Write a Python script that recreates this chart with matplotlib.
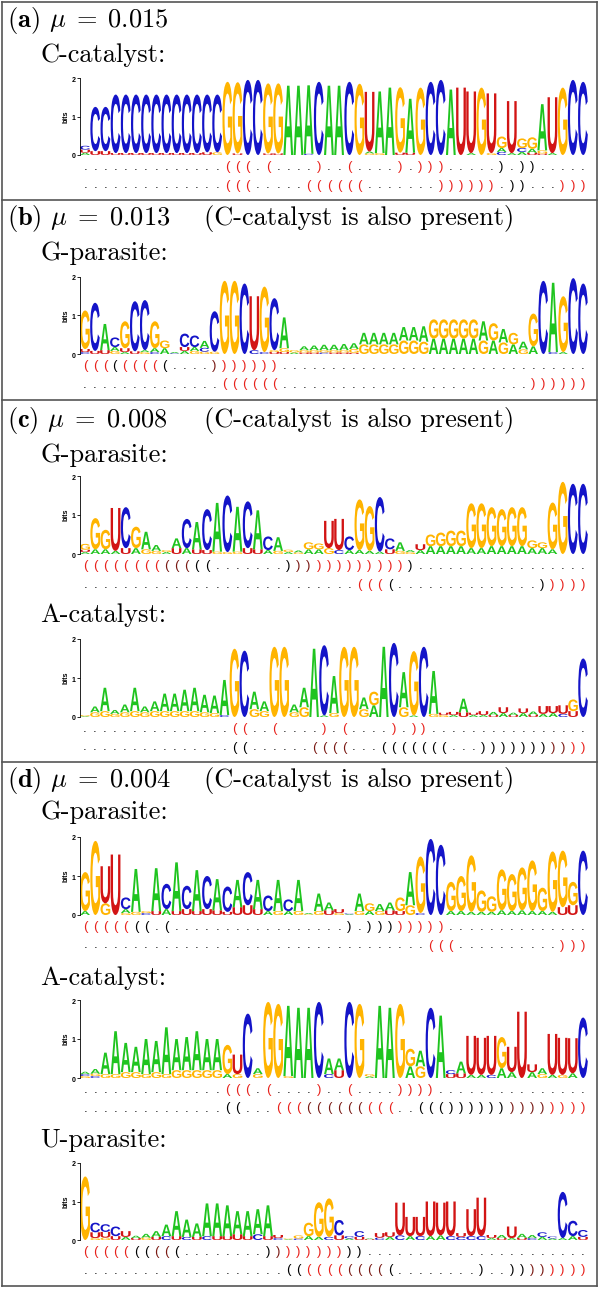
import matplotlib
matplotlib.use("Agg")
import matplotlib.pyplot as plt
from matplotlib.textpath import TextPath
from matplotlib.patches import PathPatch
from matplotlib.font_manager import FontProperties
from matplotlib.transforms import Affine2D, blended_transform_factory
from matplotlib.lines import Line2D

plt.rcParams['font.family'] = 'cmr10'
plt.rcParams['mathtext.fontset'] = 'cm'
plt.rcParams['axes.formatter.use_mathtext'] = True

# ---- panel headings ----
panel_tags = ["a", "b", "c", "d"]
panel_mu = ["0.015", "0.013", "0.008", "0.004"]
panel_note = ["", "(C-catalyst is also present)", "(C-catalyst is also present)",
              "(C-catalyst is also present)"]

# ---- logos: letters of each column (top to bottom) and their heights in bits ----
a_seq = ["CUA", "CU", "CU", "CU", "CU", "CU", "CU", "CU", "CU", "CU", "CU", "CU", "CU", "CG",
         "G", "GU", "C", "C", "GU", "GU", "A", "A", "AC", "C", "A", "A", "C", "G", "UAG", "AG",
         "A", "GU", "AU", "G", "C", "C", "A", "U", "UA", "G", "UG", "GAC", "UA", "GCA", "GAU",
         "AGU", "UA", "G", "C", "C"]
a_bits = [(.1, .08, .06), (1.15, .1), (1.15, .1), (1.52, .05), (1.52, .05), (1.52, .05),
          (1.52, .05), (1.52, .05), (1.52, .05), (1.52, .05), (1.52, .05), (1.52, .05),
          (1.5, .07), (1.5, .07), (1.9,), (1.85, .04), (1.95,), (1.95,), (1.82, .04), (1.82, .04),
          (1.8,), (1.8,), (1.78, .03), (1.9,), (1.8,), (1.8,), (1.9,), (1.85,), (1.55, .05, .04),
          (1.6, .05), (1.75,), (1.7, .06), (1.4, .06), (1.75,), (1.9,), (1.95,), (1.7,), (1.75,),
          (1.6, .05), (1.75,), (1.55, .05), (.3, .1, .08), (1.35, .05), (.25, .1, .08),
          (.3, .1, .06), (1.2, .08, .04), (1.45, .05), (1.75,), (1.95,), (1.9,)]

b_seq = ["GUC", "CU", "AU", "CAG", "GUA", "CU", "CGA", "GAC", "GA", "AC", "CUA", "CAG", "ACG",
         "CG", "G", "G", "C", "UC", "GC", "CUG", "AGU", "GA", "AGU", "AGU", "AGC", "AGU", "AGU",
         "AGU", "AG", "AG", "AG", "AG", "GA", "GA", "AG", "GA", "GA", "GA", "GA", "GA", "AG",
         "GA", "AG", "GA", "AG", "GA", "C", "AC", "GA", "C", "C"]
b_bits = [(1.0, .08, .05), (1.25, .08), (.68, .1), (.25, .1, .08), (.7, .1, .05), (1.3, .07),
          (1.3, .05, .05), (.7, .1, .05), (.2, .15), (.03, .02), (.35, .1, .08), (.3, .1, .08),
          (.18, .1, .06), (1.05, .06), (1.9,), (1.9,), (1.83,), (1.4, .1), (1.7, .05),
          (1.35, .05, .05), (.8, .1, .05), (.06, .04), (.1, .06, .04), (.12, .06, .04),
          (.14, .06, .04), (.14, .06, .04), (.16, .06, .04), (.15, .1, .03), (.3, .25), (.3, .25),
          (.3, .25), (.3, .25), (.35, .35), (.35, .35), (.4, .32), (.5, .4), (.5, .4), (.5, .4),
          (.5, .4), (.5, .4), (.5, .35), (.45, .35), (.35, .3), (.3, .25), (.2, .12), (.85, .2),
          (1.9,), (1.8, .05), (1.45, .05), (1.97,), (1.83,)]

c1_seq = ["GUA", "GA", "GA", "UA", "CU", "GA", "AG", "AG", "AG", "AU", "CA", "AU", "CU", "AG",
          "CG", "AG", "CU", "AU", "CA", "AG", "GA", "AG", "GA", "GA", "UG", "UC", "CA", "GA",
          "GA", "CA", "CU", "AG", "GA", "AU", "GA", "GA", "GA", "GA", "GA", "GA", "GA", "GA",
          "GA", "GA", "GA", "AG", "GA", "G", "C", "C"]
c1_bits = [(.15, .06, .05), (.8, .12), (.5, .12), (1.1, .08), (1.05, .15), (.55, .15), (.45, .12),
           (.15, .08), (.05, .05), (.25, .15), (.75, .15), (.7, .12), (1.05, .1), (1.25, .06),
           (1.45, .05), (1.15, .06), (1.2, .15), (1.0, .12), (.35, .1), (.35, .08), (.06, .05),
           (.05, .04), (.18, .12), (.15, .12), (.7, .15), (.8, .1), (.35, .1), (1.3, .1),
           (1.15, .08), (1.4, .06), (.28, .12), (.22, .08), (.05, .05), (.1, .15), (.3, .2),
           (.35, .2), (.4, .2), (.4, .2), (1.15, .15), (1.15, .15), (1.0, .2), (.95, .2),
           (1.0, .2), (1.0, .2), (.2, .15), (.15, .15), (1.2, .12), (1.85,), (1.8,), (1.8,)]

c2_seq = ["GA", "AG", "AG", "AG", "AG", "AG", "AG", "AG", "AG", "AG", "AG", "AG", "AG", "AG",
          "AC", "G", "C", "AG", "AG", "G", "G", "AG", "AG", "A", "CA", "AG", "G", "G", "AG", "GA",
          "A", "C", "AG", "GA", "C", "AG", "UG", "UA", "AU", "UA", "UA", "AU", "UA", "AU", "UA",
          "AU", "UA", "UA", "UC", "GU", "C"]
c2_bits = [(.03, .02), (.15, .12), (.6, .15), (.1, .08), (.2, .12), (.6, .15), (.15, .12),
           (.25, .15), (.45, .15), (.45, .15), (.55, .15), (.6, .15), (.45, .12), (.45, .1),
           (.9, .05), (1.75,), (1.7,), (.45, .2), (.25, .15), (1.8,), (1.8,), (.2, .12), (.5, .25),
           (1.75,), (1.8, .04), (.95, .1), (1.8,), (1.8,), (.3, .2), (.35, .3), (1.8,), (1.9,),
           (.9, .25), (1.65, .04), (1.8,), (1.1, .08), (.06, .05), (.08, .05), (.35, .12),
           (.06, .05), (.1, .05), (.08, .05), (.15, .1), (.06, .05), (.12, .1), (.08, .06),
           (.2, .08), (.18, .1), (.22, .08), (.3, .15), (1.5,)]

d1_seq = ["GA", "G", "UG", "U", "CAG", "AG", "CG", "AU", "CA", "AU", "CU", "AU", "CU", "AU",
          "CU", "AU", "CU", "AU", "CA", "AG", "CA", "AG", "AG", "AG", "AU", "UG", "AC", "AG",
          "GA", "AG", "AU", "GU", "AG", "GC", "C", "C", "GA", "GA", "GA", "GA", "GA", "GA",
          "GA", "GA", "GA", "GA", "GA", "GU", "GU", "C"]
d1_bits = [(1.0, .1), (1.9,), (.95, .3), (1.55,), (.3, .1, .05), (1.1, .08), (.05, .05),
           (1.1, .1), (.65, .15), (1.25, .1), (.6, .15), (1.05, .1), (.85, .15), (.8, .12),
           (.65, .08), (.7, .2), (.85, .25), (.75, .15), (.4, .1), (.8, .1), (.3, .1), (.8, .1),
           (.03, .02), (.45, .1), (.2, .12), (.1, .05), (.02, .02), (.45, .1), (.2, .1),
           (.18, .1), (.2, .12), (.35, .1), (.85, .25), (1.45, .05), (1.95,), (1.8,), (.75, .1),
           (.9, .1), (1.45, .08), (.55, .08), (.4, .08), (1.05, .12), (.95, .1), (1.1, .12),
           (1.3, .1), (.6, .1), (1.55, .08), (1.45, .2), (.6, .25), (1.65,)]

d2_seq = ["AGC", "AGC", "AG", "AG", "AG", "AG", "AG", "AG", "AG", "AG", "AG", "AG", "AG", "AG",
          "GA", "UG", "C", "AG", "G", "G", "AG", "A", "A", "C", "AC", "AU", "C", "G", "GA", "A",
          "A", "G", "GA", "AG", "C", "A", "UC", "AU", "UA", "UA", "UC", "GA", "UA", "U", "UA",
          "AG", "UA", "UG", "UA", "C"]
d2_bits = [(.06, .05, .05), (.12, .06, .05), (.55, .1), (1.1, .1), (.75, .15), (.65, .15),
           (.9, .1), (.8, .15), (1.2, .1), (.8, .2), (.85, .2), (1.0, .2), (.8, .2), (.8, .2),
           (.75, .1), (.5, .1), (1.65,), (.15, .1), (1.95,), (1.9,), (1.8, .05), (1.8,), (1.8,),
           (1.95,), (.4, .1), (.3, .2), (1.95,), (1.9,), (.06, .04), (1.85,), (1.8,), (1.9,),
           (.45, .3), (.4, .3), (1.8,), (1.6,), (.1, .1), (.3, .12), (1.0, .08), (.95, .08),
           (1.0, .08), (.8, .25), (.65, .15), (1.7,), (.2, .15), (.15, .1), (1.05, .08),
           (.95, .08), (.9, .12), (1.55,)]

d3_seq = ["G", "CUG", "CUG", "CU", "UA", "AU", "AG", "AU", "AC", "AU", "AC", "AU", "AC", "AU",
          "AU", "AU", "AU", "AC", "AU", "UC", "AG", "GC", "GA", "GA", "GC", "CU", "CA", "CU",
          "UA", "UC", "UA", "UC", "UA", "UC", "UA", "UA", "UC", "UC", "UC", "UC", "UA", "AU",
          "UA", "AU", "AC", "CA", "CA", "CA", "CA", "CU"]
d3_bits = [(1.65,), (.25, .15, .05), (.2, .15, .06), (.25, .1), (.15, .08), (.06, .05), (.1, .06),
           (.15, .08), (.3, .1), (.65, .1), (.45, .08), (.35, .08), (.85, .1), (.85, .1),
           (.8, .1), (.6, .15), (.65, .1), (.65, .15), (.8, .1), (.08, .05), (.02, .02),
           (.08, .04), (.35, .1), (.9, .08), (1.0, .08), (.4, .12), (.06, .04), (.15, .08),
           (.02, .02), (.12, .06), (.12, .08), (.85, .12), (.5, .1), (.5, .1), (.9, .1),
           (.85, .12), (.9, .1), (.1, .08), (.7, .1), (1.0, .1), (.08, .05), (.08, .05), (.3, .05),
           (.1, .06), (.08, .05), (.12, .08), (.05, .04), (1.2, .05), (.4, .1), (.18, .08)]

# ---- dot-bracket structures: () red, [] black, {} dark red ----
a_struct = ["..............(((.(....)..(....).))).....].]].....",
            "..............(((.....((((((.......)))))).]]...)))"]
b_struct = ["((([(((([" + "....}))))))" + "." * 31,
            "." * 14 + "((((((" + "." * 25 + "))))))"]
c1_struct = ["(((((((({{{[[" + "......." + "]}}" + ")" * 9 + "]" + "." * 17,
             "." * 27 + "(((" + "[" + "." * 14 + "]" + "))))"]
c2_struct = ["." * 15 + "((..(....).(....).))" + "." * 16,
             "." * 15 + "[[" + "." * 6 + "{{{{" + "..." + "[[[[[[[" + "..." + "]]]]]]]}}))"]
d1_struct = ["(((((" + "[[.[" + "." * 17 + "].]]]" + ")))))" + "." * 14,
             "." * 34 + "(((" + "." * 10 + ")))"]
d2_struct = ["." * 14 + "(((.(....)..(....))))" + "." * 15,
             "." * 14 + "[[..." + "((({{{{{{(((" + ".." + "[[[" + "]]]]]]}}}}))))"]
d3_struct = ["(((((" + "[[{{[" + "." * 8 + "]}" + "))))))" + "]]" + "." * 22,
             "." * 20 + "[[((((" + "{{{{[" + "." * 8 + "]" + ".." + "]]}}))))"]

# ---- layout (pixels from top-left) ----
W, H = 600, 1289
fig = plt.figure(figsize=(W / 100, H / 100), dpi=100)


def fx(x):
    return x / W


def fy(y):
    return 1 - y / H


letter_font = FontProperties(family='Liberation Sans', weight='bold')
letter_colors = {'A': '#1fc41f', 'C': '#1414c8', 'G': '#ffb400', 'U': '#d21414'}
glyphs = {}
for ch in 'ACGU':
    tp = TextPath((0, 0), ch, size=1, prop=letter_font)
    glyphs[ch] = (tp, tp.get_extents())

bracket_colors = {'(': '#e8211b', ')': '#e8211b', '[': 'black', ']': 'black',
                  '{': '#7a1a14', '}': '#7a1a14', '.': 'black'}
bracket_char = {'[': '(', ']': ')', '{': '(', '}': ')', '(': '(', ')': ')', '.': '.'}
small_font = FontProperties(family='Liberation Sans', weight='bold', size=5)


def draw_logo(y2, y0, seq, bits, struct):
    n = len(seq)
    x_left, x_right = 80, 588
    ax = fig.add_axes([fx(x_left), fy(y0), fx(x_right - x_left), (y0 - y2) / H])
    ax.set_xlim(0.5, n + 0.5)
    ax.set_ylim(0, 2)
    for sp in ['top', 'right', 'bottom']:
        ax.spines[sp].set_visible(False)
    ax.spines['left'].set_linewidth(0.6)
    ax.set_xticks([])
    ax.set_yticks([0, 1, 2])
    ax.tick_params(axis='y', length=2, width=0.6, pad=0.5)
    for lab in ax.get_yticklabels():
        lab.set_fontproperties(small_font)
    ax.set_ylabel('bits', fontproperties=small_font, labelpad=1)
    for i, (letters, heights) in enumerate(zip(seq, bits)):
        x = i + 1
        base = 0
        for ch, h in sorted(zip(letters, heights), key=lambda t: t[1]):
            tp, bb = glyphs[ch]
            tr = (Affine2D().translate(-bb.x0, -bb.y0)
                  .scale(0.96 / bb.width, h / bb.height).translate(x - 0.48, base))
            ax.add_patch(PathPatch(tr.transform_path(tp), fc=letter_colors[ch], ec='none'))
            base += h
    trans = blended_transform_factory(ax.transData, fig.transFigure)
    for k, line in enumerate(struct):
        yy = y0 + 12 + 18.5 * k
        for i, ch in enumerate(line):
            ax.text(i + 1, fy(yy), bracket_char[ch], transform=trans, ha='center', va='center',
                    color=bracket_colors[ch], fontsize=9.5, family='Liberation Sans',
                    clip_on=False)


def heading(y, tag, mu, note):
    fig.text(fx(7), fy(y), r"($\mathbf{%s}$) $\mu\;=\;%s$" % (tag, mu), fontsize=19,
             va='center')
    if note:
        fig.text(fx(204), fy(y), note, fontsize=19, va='center')


def label(y, txt):
    fig.text(fx(40), fy(y), txt, fontsize=19, va='center')


# panel (a)
heading(20, panel_tags[0], panel_mu[0], panel_note[0])
label(55, "C-catalyst:")
draw_logo(78, 155, a_seq, a_bits, a_struct)
# panel (b)
heading(218, panel_tags[1], panel_mu[1], panel_note[1])
label(253, "G-parasite:")
draw_logo(277, 354, b_seq, b_bits, b_struct)
# panel (c)
heading(420, panel_tags[2], panel_mu[2], panel_note[2])
label(455, "G-parasite:")
draw_logo(476, 554, c1_seq, c1_bits, c1_struct)
label(615, "A-catalyst:")
draw_logo(639, 717, c2_seq, c2_bits, c2_struct)
# panel (d)
heading(780, panel_tags[3], panel_mu[3], panel_note[3])
label(812, "G-parasite:")
draw_logo(837, 915, d1_seq, d1_bits, d1_struct)
label(978, "A-catalyst:")
draw_logo(1000, 1078, d2_seq, d2_bits, d2_struct)
label(1140, "U-parasite:")
draw_logo(1163, 1240, d3_seq, d3_bits, d3_struct)

# panel frames
frame = dict(color='#555555', lw=1.2, transform=fig.transFigure)
for yy in [2, 200, 400, 762, 1286]:
    fig.add_artist(Line2D([fx(2), fx(597)], [fy(yy), fy(yy)], **frame))
for xx in [2, 597]:
    fig.add_artist(Line2D([fx(xx), fx(xx)], [fy(2), fy(1286)], **frame))

fig.savefig("out.png", dpi=100)
